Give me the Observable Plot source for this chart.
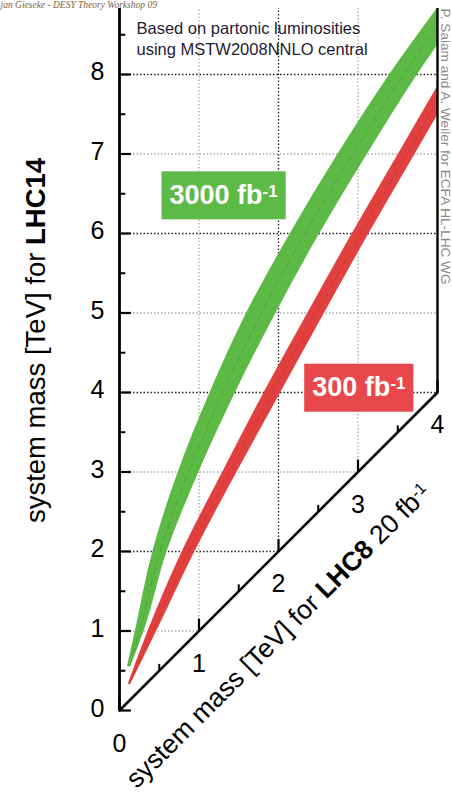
<!DOCTYPE html>
<html><head><meta charset="utf-8">
<script src="https://cdn.jsdelivr.net/npm/d3@7"></script>
<script src="https://cdn.jsdelivr.net/npm/@observablehq/plot@0.6"></script>
<style>
html,body{margin:0;padding:0;background:#fff;}
#chart{position:relative;width:452px;height:797px;overflow:hidden;}
</style></head><body><div id="chart"></div>
<script>
// ---- data (TeV) ----
// green band: 3000 fb^-1 (x = LHC8 mass at given LHC14 mass y)
const greenY    = [0.55, 1.0, 2.0, 3.0, 4.0, 5.0, 6.0, 7.0, 8.0, 8.9];
const greenLeft = [0.10, 0.20, 0.42, 0.74, 1.14, 1.60, 2.15, 2.75, 3.40, 4.05];
const greenRight= [0.14, 0.31, 0.60, 1.00, 1.46, 1.97, 2.52, 3.12, 3.75, 4.38];
// red band: 300 fb^-1
const redY      = [0.33, 1.0, 2.0, 3.0, 4.0, 5.0, 6.0, 7.0, 8.0];
const redLeft   = [0.11, 0.36, 0.79, 1.30, 1.82, 2.37, 2.93, 3.51, 4.09];
const redRight  = [0.14, 0.47, 0.95, 1.48, 2.03, 2.58, 3.14, 3.72, 4.30];

const yTicks = [0, 1, 2, 3, 4, 5, 6, 7, 8];
const yMinor = [0.5, 1.5, 2.5, 3.5, 4.5, 5.5, 6.5, 7.5, 8.5];
const xTicks = [0, 1, 2, 3, 4];
const xMinor = [0.5, 1.5, 2.5, 3.5];
const yMax = 8.83;

const labelText = ["3000 fb", "300 fb"];
const labelSup  = ["-1", "-1"];
const labelX    = [1.31, 3.01];
const labelY    = [6.48, 4.06];
const labelFill = ["#5dba47", "#e8484c"];

const yTitle = "system mass [TeV] for LHC14";
const xTitle = "system mass [TeV] for LHC8 20 fb-1";
const note = "Based on partonic luminosities\nusing MSTW2008NNLO central";
const credit = "P. Salam and A. Weiler for ECFA HL-LHC WG";
const header = "jan Gieseke - DESY Theory Workshop 09";

const green = greenY.map((y, i) => ({y, lo: greenLeft[i], hi: greenRight[i]}));
const red = redY.map((y, i) => ({y, lo: redLeft[i], hi: redRight[i]}));
const labels = labelText.map((t, i) => ({t, x: labelX[i], y: labelY[i], fill: labelFill[i], sup: labelSup[i]}));
const xMaxD = xTicks[xTicks.length - 1];
const gridY = yTicks.filter(d => d > 0);
const gridX = xTicks.filter(d => d > 0 && d < xMaxD);

const font = "Liberation Sans, Arial, Helvetica, sans-serif";

const plot = Plot.plot({
  width: 452, height: 797,
  marginLeft: 119, marginRight: 15, marginTop: 8, marginBottom: 87,
  x: {domain: [0, xMaxD], axis: null},
  y: {domain: [0, yMax], axis: null},
  style: {background: "white", fontFamily: font, color: "black"},
  marks: [
    // grid (even dark, odd light)
    Plot.ruleY(gridY.filter(d => d % 2 === 0), {y: d => d, x1: 0, x2: d => Math.min(d, xMaxD), stroke: "#222", strokeWidth: 1.3, strokeDasharray: "1.5,2"}),
    Plot.ruleY(gridY.filter(d => d % 2 === 1), {y: d => d, x1: 0, x2: d => Math.min(d, xMaxD), stroke: "#aaa", strokeWidth: 1.3, strokeDasharray: "1.5,2"}),
    Plot.ruleX(gridX.filter(d => d % 2 === 0), {x: d => d, y1: d => d, y2: yMax, stroke: "#222", strokeWidth: 1.3, strokeDasharray: "1.5,2"}),
    Plot.ruleX(gridX.filter(d => d % 2 === 1), {x: d => d, y1: d => d, y2: yMax, stroke: "#aaa", strokeWidth: 1.3, strokeDasharray: "1.5,2"}),
    // bands
    Plot.areaX(green, {y: "y", x1: "lo", x2: "hi", fill: "#5cb944", curve: "monotone-y", clip: true}),
    Plot.lineX(green, {y: "y", x: d => (d.lo + d.hi) / 2, stroke: "#3a8a2a", strokeOpacity: 0.45, strokeWidth: 1, strokeDasharray: "7,5", curve: "monotone-y", clip: true}),
    Plot.areaX(red, {y: "y", x1: "lo", x2: "hi", fill: "#e2403f", curve: "monotone-y", clip: true}),
    Plot.lineX(red, {y: "y", x: d => (d.lo + d.hi) / 2, stroke: "#a82222", strokeOpacity: 0.35, strokeWidth: 1, strokeDasharray: "7,5", curve: "monotone-y", clip: true}),
    // axes
    Plot.ruleX([0], {y1: 0, y2: yMax, stroke: "black", strokeWidth: 2.8}),
    Plot.ruleX([xMaxD], {y1: xMaxD, y2: yMax, stroke: "black", strokeWidth: 2.4}),
    Plot.link([0], {x1: 0, y1: 0, x2: xMaxD, y2: xMaxD, stroke: "black", strokeWidth: 2.6, strokeLinecap: "round"}),
    Plot.ruleY(yTicks, {y: d => d, x1: 0, x2: 0.15, stroke: "black", strokeWidth: 2.2}),
    Plot.ruleY(yMinor.filter(d => d < yMax), {y: d => d, x1: 0, x2: 0.08, stroke: "black", strokeWidth: 2}),
    Plot.ruleX(xTicks, {x: d => d, y1: d => d, y2: d => d + 0.15, stroke: "black", strokeWidth: 2.2}),
    Plot.ruleX(xMinor, {x: d => d, y1: d => d, y2: d => d + 0.08, stroke: "black", strokeWidth: 2}),
    // tick labels
    Plot.text(yTicks, {x: 0, y: d => d, text: d => String(d), textAnchor: "end", dx: -15, dy: -2, fontSize: 25, fill: "black"}),
    Plot.text(xTicks, {x: d => d, y: d => d, text: d => String(d), dy: 33, fontSize: 25, fill: "black"}),
    // titles
    Plot.text([yTitle], {frameAnchor: "left", text: d => d, rotate: -90, textAnchor: "middle", dx: -83, dy: -19, fontSize: 27.5, fill: "black"}),
    Plot.text([xTitle], {x: 1.47, y: 1.47, text: d => d, rotate: -45, textAnchor: "middle", dx: 42, dy: 42, fontSize: 26.5, fill: "black"}),
    // notes
    Plot.text([note], {frameAnchor: "top-left", text: d => d, textAnchor: "start", lineAnchor: "top", dx: 17, dy: 10, fontSize: 16.5, lineHeight: 1.28, fill: "#1f2033"}),
    Plot.text([credit], {frameAnchor: "top-right", text: d => d, rotate: 90, textAnchor: "start", lineAnchor: "bottom", dx: 3, dy: 0, fontSize: 13.6, fill: "#8a8a8a"}),
    Plot.text([header], {frameAnchor: "top-left", text: d => d, textAnchor: "start", lineAnchor: "bottom", dx: -119, dy: -1, fontSize: 9.5, fontStyle: "italic", fontFamily: "Liberation Serif, DejaVu Serif, serif", fill: "#7d5f40"}),
    // band labels
    Plot.text(labels, {x: "x", y: "y", text: "t", fill: "white", fontWeight: "bold", fontSize: 27})
  ]
});
document.getElementById("chart").append(plot);

const NS = "http://www.w3.org/2000/svg";
const allText = Array.from(plot.querySelectorAll("text"));
const find = s => allText.find(t => t.textContent === s);
function setParts(el, parts) {
  if (!el) return;
  el.textContent = "";
  for (const p of parts) {
    const ts = document.createElementNS(NS, "tspan");
    ts.textContent = p.t;
    if (p.w) ts.setAttribute("font-weight", p.w);
    if (p.size) ts.setAttribute("font-size", p.size);
    if (p.dy) ts.setAttribute("dy", p.dy);
    el.append(ts);
  }
}
setParts(find(yTitle), [{t: "system mass [TeV] for "}, {t: "LHC14", w: "bold"}]);
setParts(find(xTitle), [{t: "system mass [TeV] for "}, {t: "LHC8", w: "bold"}, {t: " 20 fb"}, {t: "-1", size: 16, dy: "-0.45em"}]);
for (const L of labels) {
  const el = find(L.t);
  if (!el) continue;
  setParts(el, [{t: L.t}, {t: L.sup, size: 17, dy: "-0.42em"}]);
  const bb = el.getBBox();
  const r = document.createElementNS(NS, "rect");
  r.setAttribute("x", bb.x - 8);
  r.setAttribute("width", bb.width + 16);
  r.setAttribute("y", -24);
  r.setAttribute("height", 48);
  r.setAttribute("fill", L.fill);
  const tr = el.getAttribute("transform");
  if (tr) r.setAttribute("transform", tr);
  el.parentNode.insertBefore(r, el);
}
</script>
</body></html>
